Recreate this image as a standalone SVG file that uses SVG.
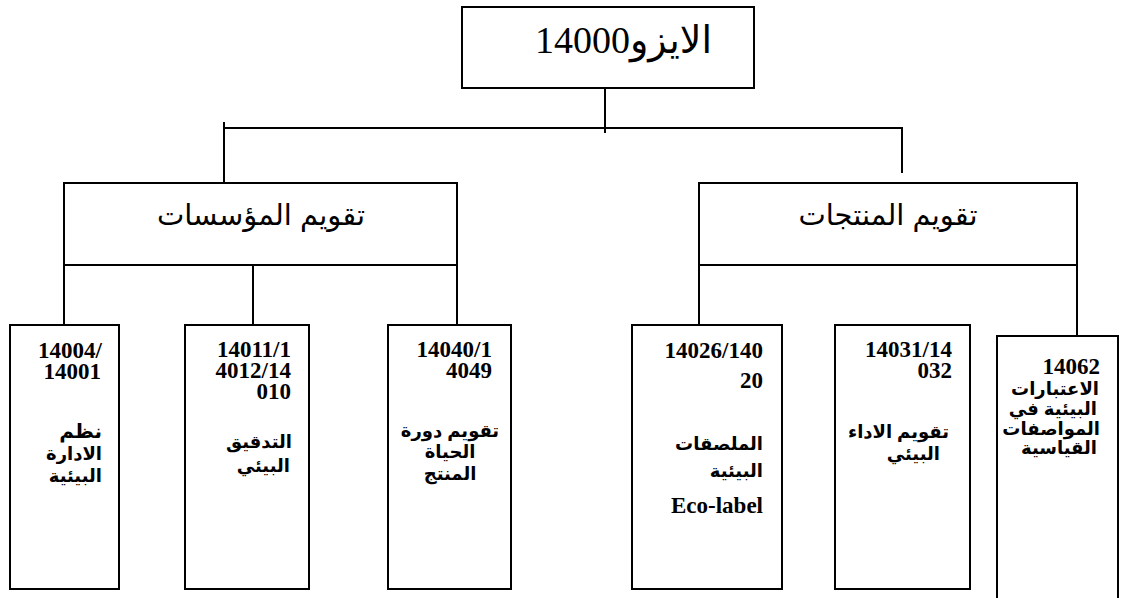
<svg xmlns="http://www.w3.org/2000/svg" width="1124" height="598" viewBox="0 0 1124 598">
<style>
.box{fill:#fff;stroke:#000;stroke-width:2}
.ln{stroke:#000;stroke-width:2;fill:none}
.num{font-family:"Liberation Serif","Times New Roman",serif;font-weight:bold;font-size:23px;fill:#000}
.ar{font-family:"Liberation Sans","DejaVu Sans","Noto Sans Arabic",sans-serif;font-weight:bold;font-size:18px;fill:#000}
.mid{font-family:"Liberation Sans","DejaVu Sans","Noto Sans Arabic",sans-serif;font-size:29px;fill:#000}
.top{font-family:"Liberation Serif","DejaVu Sans",serif;font-size:38px;fill:#000}
</style>
<rect width="1124" height="598" fill="#fff"/>
<g id="connectors">
<line class="ln" x1="605" y1="72" x2="605" y2="133"/>
<line class="ln" x1="224" y1="128" x2="903" y2="128"/>
<line class="ln" x1="224" y1="122" x2="224" y2="187"/>
<line class="ln" x1="902" y1="128" x2="902" y2="173"/>
<line class="ln" x1="64" y1="265" x2="64" y2="325"/>
<line class="ln" x1="253" y1="255" x2="253" y2="325"/>
<line class="ln" x1="457" y1="265" x2="457" y2="325"/>
<line class="ln" x1="699" y1="265" x2="699" y2="325"/>
<line class="ln" x1="1077" y1="265" x2="1077" y2="336"/>
</g>
<g id="root">
<rect class="box" x="462" y="7" width="292" height="81"/>
<text class="top" x="712" y="53" text-anchor="end">الايزو14000</text>
</g>
<g id="org">
<rect class="box" x="64" y="183" width="393" height="82"/>
<text class="mid" x="261" y="225" text-anchor="middle">تقويم المؤسسات</text>
</g>
<g id="prod">
<rect class="box" x="699" y="183" width="378" height="82"/>
<text class="mid" x="888" y="225" text-anchor="middle">تقويم المنتجات</text>
</g>
<g id="n14004">
<rect class="box" x="10" y="325" width="109" height="264"/>
<text class="num" text-anchor="end"><tspan x="102" y="358">14004/</tspan><tspan x="101" y="379">14001</tspan></text>
<text class="ar" text-anchor="end"><tspan x="102" y="438" font-size="20">نظم</tspan><tspan x="102" y="460">الادارة</tspan><tspan x="102" y="482">البيئية</tspan></text>
</g>
<g id="n14011">
<rect class="box" x="185" y="325" width="124" height="264"/>
<text class="num" text-anchor="end"><tspan x="291" y="357">14011/1</tspan><tspan x="291" y="378">4012/14</tspan><tspan x="291" y="399">010</tspan></text>
<text class="ar" text-anchor="end"><tspan x="292" y="448">التدقيق</tspan><tspan x="290" y="472">البيئي</tspan></text>
</g>
<g id="n14040">
<rect class="box" x="388" y="325" width="123" height="264"/>
<text class="num" text-anchor="end"><tspan x="492" y="357">14040/1</tspan><tspan x="492" y="378">4049</tspan></text>
<text class="ar" text-anchor="middle"><tspan x="450" y="437">تقويم دورة</tspan><tspan x="450" y="458">الحياة</tspan><tspan x="450" y="480">المنتج</tspan></text>
</g>
<g id="n14026">
<rect class="box" x="632" y="325" width="150" height="264"/>
<text class="num" text-anchor="end"><tspan x="763" y="358">14026/140</tspan><tspan x="763" y="388">20</tspan></text>
<text class="ar" text-anchor="end"><tspan x="763" y="450">الملصقات</tspan><tspan x="763" y="477">البيئية</tspan></text>
<text class="num" x="763" y="513" text-anchor="end">Eco-label</text>
</g>
<g id="n14031">
<rect class="box" x="835" y="325" width="135" height="264"/>
<text class="num" text-anchor="end"><tspan x="952" y="357">14031/14</tspan><tspan x="952" y="378">032</tspan></text>
<text class="ar" text-anchor="end"><tspan x="949" y="438">تقويم الاداء</tspan><tspan x="940" y="460">البيئي</tspan></text>
</g>
<g id="n14062">
<rect class="box" x="997" y="336" width="121" height="280"/>
<text class="ar" text-anchor="end"><tspan class="num" x="1100" y="374" font-size="28">14062</tspan><tspan x="1099" y="395">الاعتبارات</tspan><tspan x="1097" y="415">البيئية في</tspan><tspan x="1100" y="435">المواصفات</tspan><tspan x="1097" y="454">القياسية</tspan></text>
</g>
</svg>
